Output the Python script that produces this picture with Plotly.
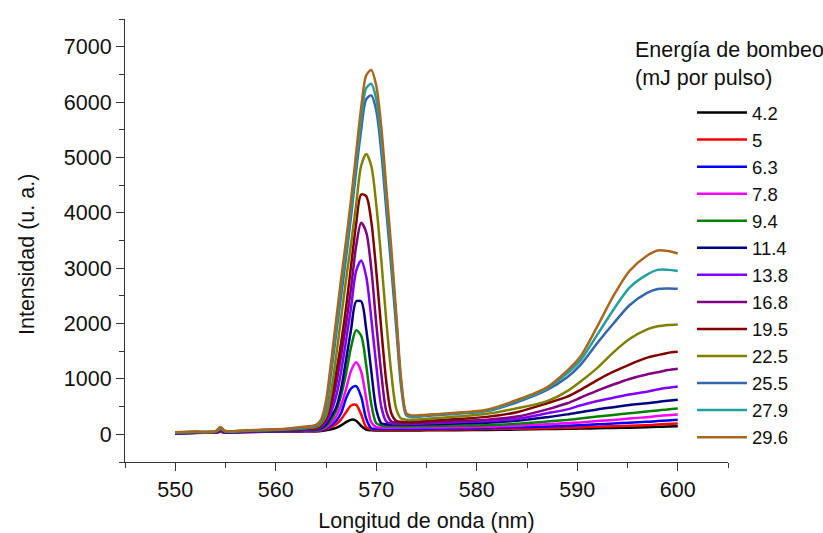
import plotly.graph_objects as go

# Shared wavelength axis (nm)
wavelength = [550, 552, 554, 554.5, 555, 557, 559, 561, 563,
              564, 564.5, 565, 565.5, 566, 566.5, 567, 567.5, 568, 568.5, 569,
              569.5, 570, 570.5, 571, 571.5, 572, 572.5, 573,
              573.5, 575, 578, 581, 584, 587, 589, 590.3, 592, 593.6, 595.2,
              596.9, 598, 599, 600]

energies = ["4.2", "5", "6.3", "7.8", "9.4", "11.4", "13.8", "16.8",
            "19.5", "22.5", "25.5", "27.9", "29.6"]

colors = ["#000000", "#FF0000", "#0000FF", "#FF00FF", "#008000", "#000080",
          "#8000FF", "#800080", "#800000", "#808000", "#3366AA", "#22A0A0",
          "#A8661E"]

I_4_2 = [14, 25, 30, 45, 32, 40, 45, 50, 55,
         55, 60, 72, 90, 115, 160, 220, 265, 245, 150, 85, 72, 70, 70, 70, 70, 70, 70, 70,
         70, 72, 75, 80, 85, 95, 100, 103, 110, 115, 120, 128, 135, 140, 145]
I_5 = [15, 26, 31, 50, 33, 41, 47, 52, 58,
       56, 68, 90, 130, 180, 270, 400, 520, 530, 360, 130, 90, 85, 85, 85, 85, 85, 85, 85,
       85, 86, 90, 95, 100, 110, 118, 125, 135, 145, 155, 165, 175, 185, 195]
I_6_3 = [16, 27, 32, 55, 34, 43, 49, 55, 62,
         60, 75, 105, 160, 240, 380, 650, 830, 870, 680, 280, 110, 100, 100, 100, 100, 100, 100, 100,
         100, 102, 108, 115, 125, 140, 155, 165, 180, 195, 210, 225, 240, 250, 262]
I_7_8 = [17, 28, 34, 60, 36, 45, 52, 58, 66,
         65, 85, 125, 200, 320, 520, 820, 1150, 1300, 1130, 650, 220, 130, 122, 120, 120, 120, 120, 120,
         120, 122, 128, 135, 155, 180, 200, 215, 240, 260, 285, 310, 330, 345, 358]
I_9_4 = [18, 30, 36, 65, 38, 47, 54, 62, 72,
         70, 95, 150, 260, 420, 700, 1100, 1580, 1880, 1780, 1250, 550, 200, 160, 150, 148, 146, 145, 145,
         145, 150, 158, 165, 190, 230, 260, 285, 320, 350, 380, 410, 430, 450, 465]
I_11_4 = [20, 32, 38, 70, 40, 50, 57, 66, 78,
          80, 110, 180, 320, 480, 820, 1350, 1900, 2400, 2400, 1900, 1150, 450, 200, 180, 178, 176, 175, 175,
          175, 180, 195, 210, 245, 310, 360, 400, 450, 490, 530, 560, 585, 605, 625]
I_13_8 = [22, 34, 40, 75, 43, 52, 60, 70, 85,
          90, 130, 220, 400, 680, 1130, 1700, 2300, 2950, 3140, 2850, 2100, 1250, 500, 230, 200, 195, 192, 190,
          190, 200, 220, 240, 280, 380, 450, 520, 600, 660, 720, 770, 810, 840, 865]
I_16_8 = [24, 36, 42, 80, 45, 55, 64, 75, 92,
          100, 145, 260, 500, 900, 1420, 2000, 2650, 3400, 3820, 3650, 3000, 2000, 1100, 420, 230, 210, 205, 205,
          205, 215, 240, 265, 320, 450, 560, 660, 790, 900, 1000, 1080, 1120, 1160, 1185]
I_19_5 = [26, 38, 45, 85, 47, 58, 68, 80, 100,
          110, 160, 300, 600, 1100, 1650, 2300, 3050, 3800, 4330, 4300, 3850, 2950, 1900, 950, 380, 240, 225, 220,
          220, 240, 275, 315, 400, 560, 680, 800, 980, 1130, 1260, 1380, 1430, 1470, 1490]
I_22_5 = [28, 40, 47, 95, 50, 62, 72, 85, 110,
          130, 190, 330, 750, 1400, 2100, 2800, 3450, 4150, 4850, 5060, 4850, 4150, 3150, 2050, 1100, 450, 280, 265,
          260, 280, 320, 370, 470, 600, 780, 950, 1200, 1480, 1720, 1890, 1950, 1975, 1985]
I_25_5 = [30, 43, 50, 105, 52, 66, 76, 90, 120,
          150, 220, 480, 1100, 1800, 2500, 3200, 3950, 4750, 5500, 6050, 6120, 5850, 5100, 4050, 3000, 1900, 820, 340,
          310, 335, 370, 420, 580, 800, 1030, 1250, 1650, 2000, 2330, 2550, 2625, 2635, 2630]
I_27_9 = [32, 45, 52, 115, 55, 70, 80, 95, 130,
          160, 240, 530, 1200, 1920, 2650, 3350, 4080, 4900, 5700, 6250, 6330, 6050, 5300, 4250, 3200, 2050, 900, 360,
          320, 345, 380, 430, 600, 830, 1100, 1330, 1800, 2250, 2650, 2880, 2970, 2970, 2950]
I_29_6 = [35, 50, 55, 130, 60, 75, 85, 100, 140,
          170, 260, 600, 1300, 2050, 2800, 3500, 4250, 5080, 5900, 6480, 6580, 6300, 5550, 4450, 3350, 2150, 950, 380,
          340, 355, 390, 445, 620, 850, 1150, 1400, 1950, 2500, 2950, 3220, 3320, 3310, 3265]

series = [I_4_2, I_5, I_6_3, I_7_8, I_9_4, I_11_4, I_13_8, I_16_8,
          I_19_5, I_22_5, I_25_5, I_27_9, I_29_6]

FONT = "Arial, Liberation Sans, sans-serif"
TXT = "#111111"

fig = go.Figure()
for name, col, ys in zip(energies, colors, series):
    fig.add_trace(go.Scatter(
        x=wavelength, y=ys, name=name, mode="lines",
        line=dict(color=col, width=2.5, shape="spline", smoothing=0.8),
    ))

axis_common = dict(
    showgrid=False, zeroline=False, showline=True, linecolor="#333333", linewidth=1,
    ticks="outside", tickcolor="#333333", ticklen=8, tickwidth=1,
    tickfont=dict(family=FONT, size=21.5, color=TXT),
    title_font=dict(family=FONT, size=21.5, color=TXT),
)

fig.update_xaxes(
    range=[545, 605], dtick=10, tick0=550,
    minor=dict(dtick=5, ticks="outside", ticklen=5, tickcolor="#333333"),
    title_text="Longitud de onda (nm)", title_standoff=14,
    **axis_common)
fig.update_yaxes(
    range=[-500, 7500], dtick=1000, tick0=0,
    minor=dict(dtick=500, ticks="outside", ticklen=5, tickcolor="#333333"),
    **axis_common)

# y-axis title (placed as in the reference, slightly below the axis centre)
fig.add_annotation(
    text="Intensidad (u. a.)", xref="paper", yref="paper",
    x=(27 - 125) / 603, y=(462 - 255) / 443, xanchor="center", yanchor="middle",
    textangle=-90, showarrow=False,
    font=dict(family=FONT, size=21.5, color=TXT))

fig.add_annotation(
    text="Energía de bombeo<br>(mJ por pulso)", xref="paper", yref="paper",
    x=(633 - 125) / 603, y=(462 - 36) / 443, xanchor="left", yanchor="top",
    showarrow=False, align="left",
    font=dict(family=FONT, size=21.5, color=TXT))

fig.update_layout(
    width=823, height=533,
    margin=dict(l=125, r=95, t=19, b=71, autoexpand=False),
    paper_bgcolor="white", plot_bgcolor="white",
    font=dict(family=FONT, size=21.5, color=TXT),
    legend=dict(
        xref="container", yref="container", x=692 / 823, y=1 - 94 / 533,
        xanchor="left", yanchor="top", bgcolor="rgba(0,0,0,0)",
        font=dict(family=FONT, size=18.5, color=TXT),
        itemwidth=50, tracegroupgap=0, traceorder="normal", maxheight=440,
    ),
    showlegend=True,
)

fig.write_html("out.html")
